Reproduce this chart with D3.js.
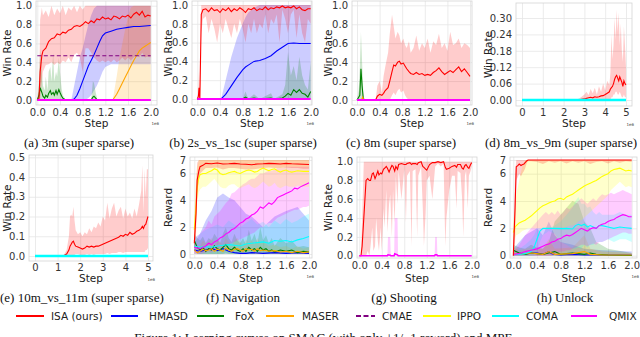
<!DOCTYPE html>
<html>
<head>
<meta charset="utf-8">
<script src="https://cdn.jsdelivr.net/npm/d3@7"></script>
<style>
body { margin: 0; background: #fff; }
svg { display: block; }
text { font-family: "DejaVu Sans", sans-serif; }
.cap { font-family: "Liberation Serif", serif; }
</style>
</head>
<body>
<script>
// each row: [step (1e6), mean, low, high]

// (a) 3m
var a_isa = [[0,0,0,0],[0.03,0.02,0,0.1],[0.05,0.3,0,0.85],[0.08,0.47,0.2,0.98],[0.1,0.52,0.3,0.9],[0.15,0.55,0.37,0.95],[0.2,0.62,0.38,0.88],[0.25,0.65,0.4,1],[0.3,0.66,0.37,0.9],[0.35,0.7,0.4,0.97],[0.4,0.69,0.38,0.92],[0.45,0.72,0.42,1],[0.5,0.71,0.4,0.9],[0.55,0.74,0.45,0.98],[0.6,0.75,0.4,0.95],[0.65,0.78,0.48,1],[0.7,0.79,0.5,0.93],[0.75,0.78,0.45,1],[0.8,0.8,0.3,0.96],[0.85,0.83,0.55,1],[0.9,0.81,0.55,1],[0.95,0.84,0.5,1],[1,0.82,0.45,1],[1.05,0.86,0.42,1],[1.1,0.85,0.4,1],[1.15,0.88,0.42,1],[1.2,0.86,0.4,1],[1.25,0.87,0.42,1],[1.3,0.85,0.4,1],[1.35,0.89,0.43,1],[1.4,0.88,0.4,1],[1.45,0.86,0.42,1],[1.5,0.89,0.45,1],[1.55,0.88,0.42,1],[1.6,0.9,0.45,1],[1.65,0.87,0.42,1],[1.7,0.91,0.45,1],[1.75,0.93,0.48,1],[1.8,0.9,0.45,1],[1.85,0.94,0.5,1],[1.9,0.88,0.45,1],[1.95,0.9,0.46,1],[2,0.89,0.45,1]];
var a_hmasd = [[0,0,0,0],[0.6,0,0,0],[0.65,0.01,0,0.15],[0.7,0.05,0,0.3],[0.75,0.12,0,0.45],[0.8,0.2,0,0.55],[0.85,0.28,0,0.68],[0.9,0.36,0.02,0.8],[0.95,0.42,0.05,0.9],[1,0.48,0.1,0.97],[1.05,0.55,0.15,1],[1.1,0.62,0.22,1],[1.15,0.68,0.3,1],[1.2,0.71,0.35,1],[1.3,0.73,0.38,1],[1.4,0.75,0.38,1],[1.5,0.76,0.38,1],[1.6,0.77,0.38,1],[1.7,0.78,0.38,1],[1.8,0.78,0.38,1],[1.9,0.785,0.38,1],[2,0.79,0.38,1]];
var a_maser = [[0,0,0,0],[1.33,0,0,0],[1.4,0.06,0,0.25],[1.45,0.12,0,0.45],[1.5,0.18,0,0.6],[1.55,0.24,0,0.75],[1.6,0.3,0,0.88],[1.65,0.36,0,0.98],[1.7,0.42,0,1],[1.75,0.47,0,1],[1.8,0.52,0,1],[1.85,0.55,0,1],[1.9,0.57,0,1],[1.95,0.59,0,1],[2,0.61,0,1]];
var a_fox = [[0,0,0,0],[0.03,0.05,0,0.2],[0.05,0.13,0,0.55],[0.08,0.08,0,0.3],[0.1,0.04,0,0.15],[0.13,0.02,0,0.1],[0.15,0.05,0,0.25],[0.18,0.03,0,0.1],[0.2,0.07,0,0.3],[0.23,0.1,0,0.35],[0.25,0.06,0,0.2],[0.28,0.08,0,0.5],[0.3,0.05,0,0.2],[0.33,0.1,0,0.3],[0.35,0.06,0,0.25],[0.38,0.11,0,0.45],[0.4,0.08,0,0.3],[0.43,0.04,0,0.12],[0.45,0.02,0,0.05],[0.5,0,0,0],[0.95,0,0,0],[0.98,0.03,0,0.2],[1,0.04,0,0.18],[1.03,0.02,0,0.08],[1.06,0,0,0],[2,0,0,0]];
var a_cmae = [[0,0.47],[2,0.47]];
var a_qmix = [[0,0],[2,0]];

// (b) 2s_vs_1sc
var b_isa = [[0,0,0,0],[0.02,0.03,0,0.1],[0.03,0.12,0,0.3],[0.045,0,0,0.05],[0.07,0.9,0.7,1],[0.1,0.95,0.85,1],[0.15,0.96,0.88,1],[0.2,0.93,0.7,1],[0.25,0.97,0.85,1],[0.3,0.94,0.75,1],[0.35,0.95,0.6,1],[0.4,0.92,0.8,1],[0.45,0.96,0.7,1],[0.5,0.94,0.85,1],[0.55,0.97,0.75,1],[0.6,0.93,0.65,1],[0.65,0.96,0.8,1],[0.7,0.94,0.7,1],[0.75,0.97,0.85,1],[0.8,0.95,0.75,1],[0.85,0.92,0.6,1],[0.9,0.96,0.8,1],[0.95,0.95,0.7,1],[1,0.97,0.85,1],[1.05,0.94,0.7,1],[1.1,0.96,0.8,1],[1.15,0.95,0.75,1],[1.2,0.98,0.9,1],[1.25,0.95,0.7,1],[1.3,0.97,0.85,1],[1.35,0.96,0.8,1],[1.4,0.98,0.9,1],[1.45,0.97,0.6,1],[1.5,0.99,0.95,1],[1.55,0.97,0.85,1],[1.6,0.98,0.7,1],[1.65,0.97,0.9,1],[1.7,0.99,0.95,1],[1.75,0.96,0.65,1],[1.8,0.98,0.9,1],[1.85,0.95,0.7,1],[1.9,0.94,0.6,1],[1.95,0.96,0.85,1],[2,0.96,0.8,1]];
var b_hmasd = [[0,0,0,0],[0.42,0,0,0],[0.5,0.05,0,0.2],[0.6,0.14,0,0.45],[0.7,0.23,0,0.65],[0.8,0.31,0,0.8],[0.85,0.34,0,0.87],[0.9,0.36,0,0.92],[1,0.4,0,0.97],[1.1,0.41,0,1],[1.2,0.43,0,1],[1.3,0.46,0,1],[1.4,0.51,0,1],[1.5,0.55,0,1],[1.6,0.59,0,1],[1.7,0.595,0,1],[1.8,0.59,0,1],[2,0.59,0,1]];
var b_fox = [[0,0,0,0],[0.8,0,0,0],[0.85,0.02,0,0.08],[0.9,0,0,0],[1,0.01,0,0.05],[1.1,0,0,0],[1.3,0.01,0,0.06],[1.35,0,0,0],[1.5,0.01,0,0.05],[1.55,0.03,0,0.15],[1.6,0.06,0,0.5],[1.65,0.04,0,0.25],[1.7,0.1,0,0.35],[1.75,0.07,0,0.2],[1.8,0.1,0,0.45],[1.85,0.06,0,0.25],[1.9,0.05,0,0.15],[1.95,0.02,0,0.1],[2,0.08,0,0.4]];
var b_qmix = [[0,0],[2,0]];

// (c) 8m
var c_isa = [[0,0,0,0],[0.33,0,0,0],[0.36,0.04,0,0.15],[0.4,0.06,0,0.2],[0.44,0.05,0,0.08],[0.47,0.07,0,0.25],[0.5,0.1,0,0.35],[0.55,0.13,0,0.5],[0.58,0.2,0,0.7],[0.62,0.3,0.05,0.9],[0.65,0.37,0.08,0.78],[0.68,0.36,0.05,0.65],[0.72,0.4,0.1,0.72],[0.75,0.41,0.12,0.68],[0.78,0.38,0.08,0.6],[0.82,0.39,0.1,0.65],[0.85,0.36,0.05,0.58],[0.88,0.33,0.02,0.55],[0.92,0.3,0,0.62],[0.95,0.28,0,0.5],[1,0.27,0,0.55],[1.05,0.29,0,0.68],[1.1,0.27,0,0.52],[1.15,0.28,0,0.6],[1.2,0.26,0,0.55],[1.25,0.27,0,0.65],[1.3,0.26,0,0.5],[1.35,0.29,0,0.62],[1.4,0.31,0,0.58],[1.45,0.34,0,0.7],[1.5,0.3,0,0.55],[1.55,0.27,0,0.6],[1.6,0.29,0,0.52],[1.65,0.31,0,0.72],[1.7,0.29,0,0.58],[1.75,0.32,0,0.6],[1.8,0.35,0,0.65],[1.85,0.3,0,0.55],[1.9,0.33,0,0.6],[1.95,0.29,0,0.58],[2,0.25,0,0.55]];
var c_fox = [[0,0,0,0],[0.03,0.03,0,0.1],[0.05,0.05,0,0.35],[0.07,0.33,0,0.72],[0.09,0.15,0,0.4],[0.11,0.02,0,0.1],[0.13,0,0,0],[2,0,0,0]];
var c_maser = [[0,0,0,0],[0.08,0,0,0],[0.1,0.03,0,0.05],[0.12,0,0,0],[2,0,0,0]];
var c_qmix = [[0,0],[2,0]];

// (d) 8m_vs_9m
var d_isa = [[0,0,0,0],[2.6,0,0,0],[2.8,0.002,0,0.008],[3,0.004,0,0.02],[3.1,0.006,0,0.03],[3.2,0.008,0,0.018],[3.3,0.01,0,0.04],[3.4,0.008,0,0.025],[3.5,0.012,0,0.045],[3.6,0.01,0,0.02],[3.7,0.012,0,0.05],[3.8,0.015,0,0.03],[3.9,0.016,0,0.06],[4,0.02,0,0.035],[4.1,0.025,0,0.07],[4.2,0.03,0,0.055],[4.25,0.04,0,0.1],[4.3,0.045,0.01,0.24],[4.35,0.05,0.01,0.15],[4.4,0.06,0.02,0.2],[4.45,0.075,0.02,0.3],[4.5,0.085,0.03,0.22],[4.55,0.09,0.03,0.33],[4.6,0.08,0.02,0.25],[4.65,0.07,0.02,0.32],[4.7,0.085,0.03,0.2],[4.75,0.075,0.02,0.28],[4.8,0.065,0.01,0.18],[4.85,0.05,0.01,0.14],[4.9,0.07,0.02,0.27],[4.95,0.06,0.01,0.2],[5,0.055,0.01,0.12]];
var d_coma = [[0,0],[5,0]];

// (e) 10m_vs_11m
var e_isa = [[0,0,0,0],[1.2,0,0,0],[1.3,0.004,0,0.01],[1.4,0.01,0,0.03],[1.5,0.03,0,0.1],[1.55,0.05,0,0.2],[1.6,0.06,0,0.21],[1.65,0.07,0,0.2],[1.7,0.075,0.005,0.25],[1.75,0.06,0.005,0.18],[1.8,0.05,0.01,0.13],[1.9,0.045,0.01,0.11],[2,0.04,0.005,0.12],[2.1,0.035,0.005,0.1],[2.2,0.04,0.005,0.12],[2.3,0.05,0.01,0.11],[2.4,0.045,0.005,0.14],[2.5,0.05,0.01,0.12],[2.6,0.045,0.005,0.15],[2.7,0.05,0.01,0.14],[2.8,0.05,0.01,0.17],[2.9,0.055,0.01,0.15],[3,0.06,0.01,0.2],[3.1,0.065,0.01,0.18],[3.2,0.07,0.015,0.27],[3.3,0.075,0.01,0.19],[3.4,0.08,0.015,0.24],[3.5,0.085,0.015,0.27],[3.6,0.09,0.015,0.2],[3.7,0.095,0.02,0.23],[3.8,0.105,0.02,0.25],[3.9,0.1,0.015,0.19],[4,0.11,0.02,0.24],[4.1,0.105,0.02,0.2],[4.2,0.12,0.02,0.22],[4.3,0.11,0.02,0.19],[4.4,0.115,0.02,0.24],[4.5,0.125,0.02,0.2],[4.6,0.13,0.02,0.26],[4.7,0.14,0.02,0.33],[4.75,0.15,0.02,0.46],[4.8,0.14,0.02,0.22],[4.85,0.155,0.02,0.44],[4.9,0.16,0.03,0.3],[4.95,0.18,0.03,0.44],[5,0.2,0.04,0.44]];
var e_coma = [[0,0],[5,0]];

// (f) Navigation
var f_isa = [[0,0.8,0.2,2],[0.03,3,1.5,5],[0.05,5.5,4.5,6.8],[0.08,6.2,5.5,7],[0.1,6.5,6,7],[0.15,6.6,6.2,7],[0.2,6.75,6.4,7],[0.3,6.72,6.4,7],[0.4,6.78,6.45,7],[0.5,6.7,6.3,7],[0.6,6.72,6.4,7],[0.7,6.75,6.4,7],[0.8,6.7,6.35,7],[0.9,6.68,6.3,7],[1,6.65,6.3,7],[1.1,6.7,6.35,7],[1.2,6.72,6.4,7],[1.3,6.75,6.45,7],[1.4,6.73,6.4,7],[1.5,6.7,6.4,7],[1.6,6.75,6.45,7],[1.7,6.72,6.4,7],[1.8,6.7,6.4,7],[1.9,6.68,6.35,7],[2,6.66,6.35,7]];
var f_ippo = [[0,1.8,0.5,3],[0.03,3.5,2,5.5],[0.05,5,3.8,6.5],[0.08,5.7,4.6,7],[0.1,5.9,4.8,7],[0.15,6,5,7],[0.2,6,5,7],[0.25,6.1,5.2,7],[0.3,6.2,5.4,7],[0.35,6.35,5.6,7],[0.4,6.25,5.3,7],[0.45,6,5,7],[0.5,5.9,4.9,7],[0.55,5.95,4.9,7],[0.6,6.05,5.1,7],[0.65,6.1,5.2,7],[0.7,6.15,5.2,7],[0.75,6.05,5,7],[0.8,6,4.9,7],[0.85,6.1,5,7],[0.9,6.2,5.1,7],[0.95,6.25,5.2,7],[1,6.2,5,7],[1.05,6.1,4.9,7],[1.1,6.15,5,7],[1.15,6.3,5.2,7],[1.2,6.4,5.4,7],[1.25,6.3,5.2,7],[1.3,6.2,5,7],[1.35,6.3,5.1,7],[1.4,6.35,5.3,7],[1.45,6.2,5,7],[1.5,6.1,4.9,7],[1.55,6.2,5,7],[1.6,6.25,5.1,7],[1.65,6.15,5,7],[1.7,6.1,5,7],[1.75,6.15,5,7],[1.8,6.2,5.1,7],[1.9,6.15,5,7],[2,6.15,5,7]];
var f_qmix = [[0,0.5,0.1,1.2],[0.1,0.4,0,1.5],[0.2,0.6,0.1,2],[0.25,0.8,0.2,2.5],[0.3,0.7,0.1,2.2],[0.35,0.9,0.3,2.8],[0.4,1,0.3,3],[0.45,1.2,0.5,3.2],[0.5,1.3,0.5,3.5],[0.55,1.5,0.6,3.8],[0.6,1.6,0.7,4],[0.65,1.8,0.8,4.5],[0.7,1.9,0.9,4.6],[0.75,2.1,1,4.8],[0.8,2.3,1.1,5],[0.85,2.4,1.2,5.2],[0.9,2.6,1.3,5.3],[0.95,2.7,1.4,5.5],[1,2.9,1.5,5.6],[1.05,3,1.6,5.6],[1.1,3.2,1.8,5.8],[1.15,3.5,2,6],[1.2,3.4,2,6],[1.25,3.6,2.2,6.1],[1.3,3.8,2.3,6.2],[1.35,3.7,2.3,6.2],[1.4,3.9,2.5,6.3],[1.45,4.2,2.7,6.4],[1.5,4.3,2.8,6.4],[1.55,4.4,2.9,6.4],[1.6,4.5,3,6.5],[1.65,4.6,3.1,6.5],[1.7,4.7,3.2,6.5],[1.75,4.9,3.3,6.5],[1.8,4.85,3.3,6.5],[1.85,5,3.4,6.5],[1.9,5.1,3.5,6.5],[1.95,5.2,3.5,6.5],[2,5.3,3.6,6.5]];
var f_coma = [[0,0.6,0.2,1.2],[0.1,0.5,0,1.5],[0.2,0.55,0,1.8],[0.3,0.5,0,2],[0.4,0.6,0,2.2],[0.5,0.65,0,2],[0.6,0.7,0,2.5],[0.7,0.65,0,2.2],[0.8,0.6,0,2],[0.9,0.75,0,2.3],[1,0.8,0,2.6],[1.1,0.85,0.1,2.2],[1.2,0.9,0.1,2.4],[1.3,0.8,0,2],[1.4,1,0.1,2.5],[1.5,0.95,0.1,2.2],[1.6,1,0.1,2.6],[1.7,0.9,0,2.3],[1.8,1.05,0.1,2.5],[1.9,1.15,0.2,2.8],[2,1.3,0.3,3]];
var f_hmasd = [[0,0.3,0,0.8],[0.1,0.2,0,1.5],[0.2,0.3,0,2.5],[0.3,0.4,0,3.2],[0.4,0.25,0,4.2],[0.5,0.4,0,4.5],[0.6,0.2,0,4.2],[0.7,0.1,0,4],[0.8,0.05,0,3.5],[0.9,0.05,0,3],[1,0.1,0,2.8],[1.2,0.05,0,2],[1.4,0.1,0,2.8],[1.6,0.05,0,3.2],[1.8,0.1,0,3.5],[2,0.05,0,2.5]];
var f_fox = [[0,1,0.5,1.5],[0.05,0.5,0,1.2],[0.1,0.3,0,1],[0.15,0.5,0,1.3],[0.2,0.2,0,0.8],[0.25,0.4,0,1.2],[0.3,0.3,0,1],[0.35,0.6,0,1.5],[0.4,0.4,0,1.2],[0.45,0.3,0,0.8],[0.5,0.5,0,1.5],[0.55,0.7,0.1,2],[0.6,0.4,0,1.2],[0.65,0.3,0,0.9],[0.7,0.5,0,1.5],[0.75,0.3,0,1],[0.8,0.2,0,0.8],[0.85,0.4,0,1.2],[0.9,0.2,0,0.7],[0.95,0.5,0,1.8],[1,0.3,0,1],[1.05,0.4,0,1.5],[1.1,0.2,0,0.8],[1.15,0.5,0,2],[1.2,0.3,0,1],[1.25,0.4,0,1.4],[1.3,0.2,0,0.8],[1.35,0.3,0,1.2],[1.4,0.15,0,0.6],[1.5,0.3,0,1.2],[1.6,0.2,0,0.8],[1.7,0.3,0,1],[1.8,0.1,0,0.5],[1.9,0.2,0,0.6],[2,0.15,0,0.5]];
var f_maser = [[0,0.3,0,0.8],[0.05,0.1,0,0.5],[0.1,0.2,0,0.6],[0.15,0.35,0,1],[0.2,0.25,0,0.8],[0.25,0.3,0,0.9],[0.3,0.4,0,1.2],[0.35,0.2,0,0.7],[0.4,0.35,0,1],[0.45,0.3,0,0.9],[0.5,0.2,0,0.7],[0.55,0.45,0,1.2],[0.6,0.3,0,0.9],[0.65,0.2,0,0.6],[0.7,0.35,0,1],[0.75,0.4,0,1.2],[0.8,0.3,0,0.9],[0.85,0.2,0,0.6],[0.9,0.4,0,1.1],[0.95,0.3,0,0.8],[1,0.35,0,1],[1.05,0.2,0,0.7],[1.1,0.4,0,1.2],[1.15,0.25,0,0.8],[1.2,0.3,0,0.9],[1.3,0.2,0,0.6],[1.4,0.25,0,0.7],[1.5,0.15,0,0.5],[1.6,0.2,0,0.6],[1.7,0.1,0,0.4],[1.8,0.2,0,0.6],[1.9,0.1,0,0.4],[2,0.15,0,0.5]];

// (g) Shooting
var g_isa = [[0,0,0,0],[0.03,0,0,0],[0.05,0.1,0,0.4],[0.08,0.4,0,1],[0.1,0.6,0,1],[0.12,0.8,0,1],[0.15,0.82,0.05,1],[0.18,0.8,0,1],[0.2,0.8,0.1,1],[0.23,0.87,0.3,1],[0.25,0.88,0.05,1],[0.28,0.82,0.1,1],[0.3,0.85,0.4,1],[0.33,0.9,0.15,1],[0.35,0.86,0.05,1],[0.38,0.88,0.3,1],[0.4,0.87,0.05,1],[0.43,0.92,0.5,1],[0.45,0.93,0.3,1],[0.48,0.95,0.7,1],[0.5,0.93,0.25,1],[0.53,0.89,0.55,1],[0.55,0.92,0.65,1],[0.58,0.96,0.2,1],[0.6,0.95,0.7,1],[0.63,0.9,0.35,1],[0.65,0.95,0.85,1],[0.68,0.92,0.55,1],[0.7,0.97,0.9,1],[0.75,0.98,0.6,1],[0.8,0.97,0.92,1],[0.83,0.97,0.35,1],[0.85,0.98,0.85,1],[0.9,0.99,0.9,1],[0.93,0.97,0.1,1],[0.95,0.98,0.9,1],[1,0.98,0.92,1],[1.03,0.97,0.2,1],[1.05,0.99,0.85,1],[1.1,1,0.95,1],[1.13,0.95,0.5,1],[1.15,0.94,0.1,1],[1.18,0.92,0.45,1],[1.2,0.91,0.8,1],[1.25,0.97,0.85,1],[1.3,0.99,0.6,1],[1.35,0.99,0.95,1],[1.4,1,0.98,1],[1.45,0.99,0.95,1],[1.5,1,0.98,1],[1.53,0.94,0.1,1],[1.55,0.92,0.4,1],[1.6,0.93,0.7,1],[1.65,0.95,0.85,1],[1.7,0.96,0.85,1],[1.73,0.94,0.5,1],[1.75,0.97,0.9,1],[1.8,0.97,0.88,1],[1.83,0.93,0.6,1],[1.85,0.92,0.2,1],[1.88,0.96,0.85,1],[1.9,0.97,0.9,1],[1.93,0.94,0.5,1],[1.95,0.93,0.85,1],[1.98,0.97,0.9,1],[2,0.99,0.95,1]];
var g_qmix = [[0,0,0,0],[0.5,0,0,0],[0.51,0.01,0,0.2],[0.55,0.005,0,0.2],[0.56,0,0,0],[0.62,0,0,0],[0.63,0.02,0,0.4],[0.68,0.01,0,0.4],[0.69,0,0,0],[1.34,0,0,0],[1.35,0.01,0,0.2],[1.38,0.01,0,0.2],[1.39,0,0,0],[2,0,0,0]];

// (h) Unlock
var h_isa = [[0,0,0,0.5],[0.03,3.5,1,6],[0.05,6.5,5.5,7],[0.08,6.6,5.8,7],[0.1,6.7,6,7],[0.13,6.6,5.8,7],[0.15,6.65,6,7],[0.18,6.7,6.2,7],[0.2,6.8,6.4,7],[0.23,6.95,6.8,7],[0.25,7,6.9,7],[0.3,7,6.9,7],[0.4,7,6.85,7],[0.5,7,6.7,7],[0.6,7,6.9,7],[0.7,7,6.8,7],[0.8,7,6.9,7],[0.9,7,6.75,7],[1,7,6.9,7],[1.1,7,6.8,7],[1.2,7,6.9,7],[1.3,7,6.7,7],[1.4,7,6.85,7],[1.5,7,6.9,7],[1.6,7,6.75,7],[1.7,7,6.9,7],[1.8,7,6.8,7],[1.9,7,6.9,7],[2,7,6.85,7]];
var h_ippo = [[0,1.7,1,2.5],[0.03,2.1,1.3,3.5],[0.05,2.2,1.5,4.5],[0.1,2.4,1.6,5.5],[0.15,2.5,1.8,6.5],[0.2,2.6,1.9,7],[0.25,2.75,2,7],[0.3,2.9,2,7],[0.35,3.1,2,7],[0.4,3.3,2,7],[0.45,3.5,2,7],[0.5,3.65,2,7],[0.55,3.75,2,7],[0.6,3.85,2,7],[0.65,3.95,2,7],[0.7,4,2,7],[0.75,4.15,2.1,7],[0.8,4.2,2.1,7],[0.85,4.1,2,7],[0.9,4.3,2.1,7],[0.95,4.4,2.2,7],[1,4.5,2.2,7],[1.05,4.65,2.3,7],[1.1,4.8,2.5,7],[1.15,4.95,2.6,7],[1.2,5.1,2.8,7],[1.25,5.2,3,7],[1.3,5.3,3.2,7],[1.35,5.4,3.4,7],[1.4,5.5,3.6,7],[1.45,5.65,3.8,7],[1.5,5.8,4,7],[1.55,5.9,4.2,7],[1.6,6,4.4,7],[1.65,6.2,4.8,7],[1.7,6.3,5,7],[1.75,6.35,5.2,7],[1.8,6.4,5.4,7],[1.85,6.3,5.2,7],[1.9,6.2,5,7],[1.95,6.25,5.1,7],[2,6.2,5,7]];
var h_coma = [[0,0.1,0,0.3],[0.1,0.1,0,0.5],[0.2,0.15,0,0.8],[0.3,0.3,0,1.2],[0.35,0.6,0,1.5],[0.4,1.2,0.2,2],[0.45,1.8,1,2],[0.5,2,1.5,2],[0.6,2,1.8,2],[0.7,2,1.6,2.2],[0.8,1.98,1,2.5],[0.9,2,0.8,3],[1,1.95,0.5,3.5],[1.05,2.2,0.5,4],[1.1,2.3,0.6,4.3],[1.15,2.2,0.5,3.8],[1.2,2.3,0.8,3.8],[1.25,2.1,0.6,3.5],[1.3,2.2,0.8,3.6],[1.35,2.1,0.8,3.2],[1.4,2,1,3],[1.45,2.2,1,3.2],[1.5,2.2,1,3],[1.6,2.1,1.2,3],[1.7,2,1,3],[1.8,2.1,1.2,3.2],[1.9,2.05,1.2,3],[2,2,1,3]];
var h_qmix = [[0,0.1,0,0.3],[0.1,0.15,0,0.8],[0.2,0.3,0,1.5],[0.3,0.4,0,2],[0.4,0.5,0,2.5],[0.5,0.7,0,3],[0.55,0.8,0,3.2],[0.6,0.85,0,3],[0.65,1,0,3.2],[0.7,1.05,0.1,3],[0.75,1.2,0.2,3.3],[0.8,1.25,0.3,3],[0.85,1.4,0.3,3.2],[0.9,1.5,0.4,3.5],[0.95,1.45,0.4,3.4],[1,1.55,0.5,3.6],[1.05,1.7,0.6,3.8],[1.1,1.85,0.7,4],[1.15,2,0.8,4.2],[1.2,1.9,0.8,4],[1.25,1.8,0.7,3.8],[1.3,1.95,0.8,4],[1.35,2.05,0.9,4.2],[1.4,2,0.8,4],[1.45,2.2,1,4.3],[1.5,2.3,1,4.5],[1.55,2.35,1.1,4.4],[1.6,2.5,1.2,4.5],[1.65,2.6,1.3,4.6],[1.7,2.65,1.4,4.5],[1.75,2.8,1.5,4.6],[1.8,2.9,1.6,4.7],[1.85,3,1.7,4.8],[1.9,2.95,1.7,4.7],[1.95,2.85,1.6,4.6],[2,2.85,1.6,4.5]];
var h_hmasd = [[0,0.1,0,0.5],[0.2,0.15,0,1.5],[0.4,0.2,0,2],[0.5,0.1,0,1.5],[0.6,0.3,0,2.5],[0.65,0.15,0,2],[0.7,0.1,0,1.5],[0.8,0.05,0,1],[1,0.1,0,0.8],[1.2,0.05,0,0.5],[1.5,0.05,0,0.4],[2,0.05,0,0.3]];
var h_fox = [[0,0.4,0,0.8],[0.1,0.2,0,0.6],[0.2,0.1,0,0.5],[0.3,0.2,0,0.8],[0.4,0.15,0,0.6],[0.5,0.1,0,0.5],[0.6,0.2,0,1],[0.7,0.3,0,2.5],[0.8,0.1,0,3],[0.9,0.15,0,3.5],[1,0.2,0,4],[1.1,0.15,0,3.8],[1.2,0.1,0,2.5],[1.3,0.2,0,2],[1.4,0.1,0,1],[1.6,0.05,0,0.5],[2,0.02,0,0.2]];
var h_maser = [[0,0.2,0,0.6],[0.1,0.1,0,0.4],[0.3,0.2,0,0.6],[0.5,0.1,0,0.5],[0.6,0.3,0,1.2],[0.7,0.1,0,0.5],[1,0.15,0,0.6],[1.2,0.3,0,1.5],[1.3,0.1,0,0.5],[1.5,0.05,0,0.3],[2,0.05,0,0.2]];

var methods = ["ISA (ours)", "HMASD", "FoX", "MASER", "CMAE", "IPPO", "COMA", "QMIX"];
var methodKeys = ["isa", "hmasd", "fox", "maser", "cmae", "ippo", "coma", "qmix"];
var topCaptions = ["(a) 3m (super sparse)", "(b) 2s_vs_1sc (super sparse)", "(c) 8m (super sparse)", "(d) 8m_vs_9m (super sparse)"];
var bottomCaptions = ["(e) 10m_vs_11m (super sparse)", "(f) Navigation", "(g) Shooting", "(h) Unlock"];
var stepTicks2 = [0, 0.4, 0.8, 1.2, 1.6, 2.0];
var stepTicks5 = [0, 1, 2, 3, 4, 5];
var winTicks = [0, 0.2, 0.4, 0.6, 0.8, 1.0];
var winTicksD = [0, 0.06, 0.12, 0.18, 0.24, 0.30];
var winTicksE = [0, 0.1, 0.2, 0.3, 0.4, 0.5];
var rewardTicks = [0, 2, 4, 6, 7];

var colors = { isa: "#ff0000", hmasd: "#0000ff", fox: "#008000", maser: "#ffa500",
               cmae: "#800080", ippo: "#ffff00", coma: "#00ffff", qmix: "#ff00ff" };

var svg = d3.select("body").append("svg").attr("width", 640).attr("height", 337);

function drawPanel(p) {
    var g = svg.append("g");
    var x = d3.scaleLinear().domain(p.xd).range(p.xr);
    var y = d3.scaleLinear().domain(p.yd).range(p.yr);
    var l = p.box[0], t = p.box[1], r = p.box[2], b = p.box[3];

    var clipId = "clip-" + p.id;
    svg.append("clipPath").attr("id", clipId).append("rect")
        .attr("x", l).attr("y", t).attr("width", r - l).attr("height", b - t);

    // grid
    g.append("g").attr("transform", "translate(0," + b + ")")
        .call(d3.axisBottom(x).tickValues(p.xt).tickSize(-(b - t)).tickFormat(""))
        .call(s => s.select(".domain").remove())
        .selectAll("line").attr("stroke", "#e6e6e6").attr("stroke-width", 0.8);
    g.append("g").attr("transform", "translate(" + l + ",0)")
        .call(d3.axisLeft(y).tickValues(p.yt).tickSize(-(r - l)).tickFormat(""))
        .call(s => s.select(".domain").remove())
        .selectAll("line").attr("stroke", "#e6e6e6").attr("stroke-width", 0.8);

    var plot = g.append("g").attr("clip-path", "url(#" + clipId + ")");
    var area = d3.area().x(d => x(d[0])).y0(d => y(d[2])).y1(d => y(d[3]));
    var line = d3.line().x(d => x(d[0])).y(d => y(d[1]));

    p.series.forEach(function(s) {
        if (s.data[0].length > 2)
            plot.append("path").attr("d", area(s.data))
                .attr("fill", colors[s.k]).attr("fill-opacity", 0.2);
    });
    p.series.forEach(function(s) {
        plot.append("path").attr("d", line(s.data))
            .attr("fill", "none")
            .attr("stroke", colors[s.k])
            .attr("stroke-width", s.w || 1.1)
            .attr("stroke-dasharray", s.k === "cmae" ? "4,2.5" : null);
    });

    // frame
    g.append("rect").attr("x", l).attr("y", t).attr("width", r - l).attr("height", b - t)
        .attr("fill", "none").attr("stroke", "#d4d4d4").attr("stroke-width", 0.8);

    // tick labels
    var xa = g.append("g").attr("transform", "translate(0," + b + ")")
        .call(d3.axisBottom(x).tickValues(p.xt).tickSize(0).tickPadding(p.xpad).tickFormat(d3.format(p.xf)));
    var ya = g.append("g").attr("transform", "translate(" + l + ",0)")
        .call(d3.axisLeft(y).tickValues(p.yt).tickSize(0).tickPadding(4).tickFormat(d3.format(p.yf)));
    [xa, ya].forEach(function(a) {
        a.select(".domain").remove();
        a.selectAll("text").attr("fill", "#333").attr("font-size", 10)
            .attr("font-family", "DejaVu Sans, sans-serif");
    });

    g.append("text").attr("x", (l + r) / 2).attr("y", p.stepY)
        .attr("text-anchor", "middle").attr("dy", "0.35em")
        .attr("font-size", 10.5).attr("fill", "#222").text("Step");
    g.append("text")
        .attr("transform", "translate(" + p.labX + "," + ((t + b) / 2) + ") rotate(-90)")
        .attr("text-anchor", "middle").attr("dy", "0.35em")
        .attr("font-size", 10.5).attr("fill", "#222").text(p.ylab);
    // offset label of the step axis, tucked under the last tick label
    g.append("text").attr("x", r + 2).attr("y", b + 20)
        .attr("text-anchor", "end").attr("font-size", 4).attr("fill", "#444").text("1e6");
}

var panels = [
    { id: "a", box: [36, 1, 157, 105], xd: [0, 2], xr: [37.3, 150.7], yd: [0, 1], yr: [100, 5.7],
      xt: stepTicks2, yt: winTicks, xf: ".1f", yf: ".1f", ylab: "Win Rate", labX: 7, stepY: 123, xpad: 4,
      series: [{ k: "hmasd", data: a_hmasd }, { k: "fox", data: a_fox }, { k: "maser", data: a_maser },
               { k: "isa", data: a_isa }, { k: "cmae", data: a_cmae }, { k: "qmix", data: a_qmix, w: 2 }] },
    { id: "b", box: [192, 1, 312, 105], xd: [0, 2], xr: [197.3, 310.7], yd: [0, 1], yr: [99, 5],
      xt: stepTicks2, yt: winTicks, xf: ".1f", yf: ".1f", ylab: "Win Rate", labX: 168, stepY: 123, xpad: 4,
      series: [{ k: "hmasd", data: b_hmasd }, { k: "fox", data: b_fox }, { k: "isa", data: b_isa },
               { k: "qmix", data: b_qmix, w: 2 }] },
    { id: "c", box: [352, 1, 472, 105], xd: [0, 2], xr: [357, 470], yd: [0, 1], yr: [100, 5.3],
      xt: stepTicks2, yt: winTicks, xf: ".1f", yf: ".1f", ylab: "Win Rate", labX: 328, stepY: 123, xpad: 4,
      series: [{ k: "fox", data: c_fox }, { k: "maser", data: c_maser }, { k: "isa", data: c_isa },
               { k: "qmix", data: c_qmix, w: 2 }] },
    { id: "d", box: [516, 3, 632, 106], xd: [0, 5], xr: [522, 626], yd: [0, 0.3], yr: [100, 18],
      xt: stepTicks5, yt: winTicksD, xf: "d", yf: ".2f", ylab: "Win Rate", labX: 488, stepY: 123, xpad: 3,
      series: [{ k: "isa", data: d_isa }, { k: "coma", data: d_coma, w: 2.5 }] },
    { id: "e", box: [29, 155, 153, 261], xd: [0, 5], xr: [35, 148], yd: [0, 0.5], yr: [256, 157.3],
      xt: stepTicks5, yt: winTicksE, xf: "d", yf: ".1f", ylab: "Win Rate", labX: 7, stepY: 278, xpad: 3,
      series: [{ k: "isa", data: e_isa }, { k: "coma", data: e_coma, w: 2.5 }] },
    { id: "f", box: [190, 157, 312, 258], xd: [0, 2], xr: [194.3, 309], yd: [0, 7], yr: [254, 160],
      xt: stepTicks2, yt: rewardTicks, xf: ".1f", yf: "d", ylab: "Reward", labX: 168, stepY: 278, xpad: 4,
      series: [{ k: "hmasd", data: f_hmasd }, { k: "fox", data: f_fox }, { k: "maser", data: f_maser },
               { k: "coma", data: f_coma }, { k: "qmix", data: f_qmix }, { k: "ippo", data: f_ippo },
               { k: "isa", data: f_isa }] },
    { id: "g", box: [357, 157, 477, 258], xd: [0, 2], xr: [359.3, 471.7], yd: [0, 1], yr: [255.7, 161.7],
      xt: stepTicks2, yt: winTicks, xf: ".1f", yf: ".1f", ylab: "Win Rate", labX: 328, stepY: 278, xpad: 4,
      series: [{ k: "isa", data: g_isa }, { k: "qmix", data: g_qmix, w: 1.5 }] },
    { id: "h", box: [510, 157, 637, 258], xd: [0, 2], xr: [513.3, 631.7], yd: [0, 7], yr: [255.7, 160],
      xt: stepTicks2, yt: rewardTicks, xf: ".1f", yf: "d", ylab: "Reward", labX: 488, stepY: 278, xpad: 4,
      series: [{ k: "hmasd", data: h_hmasd }, { k: "fox", data: h_fox }, { k: "maser", data: h_maser },
               { k: "coma", data: h_coma }, { k: "qmix", data: h_qmix }, { k: "ippo", data: h_ippo },
               { k: "isa", data: h_isa }] }
];

panels.forEach(drawPanel);

// sub-captions
var topCapX = [79, 243, 401, 561];
var botCapX = [0, 243, 404, 565];
var botCapAnchor = ["start", "middle", "middle", "middle"];
svg.selectAll(".capTop").data(topCaptions).enter().append("text")
    .attr("class", "cap").attr("x", (d, i) => topCapX[i]).attr("y", 147)
    .attr("text-anchor", "middle").attr("font-size", 13).attr("fill", "#111").text(d => d);
svg.selectAll(".capBot").data(bottomCaptions).enter().append("text")
    .attr("class", "cap").attr("x", (d, i) => botCapX[i]).attr("y", 302)
    .attr("text-anchor", (d, i) => botCapAnchor[i]).attr("font-size", 13).attr("fill", "#111").text(d => d);

// legend
var legLineX = [16, 111, 197, 266, 356, 423, 492, 571];
var legLineLen = [28, 27, 27, 28, 19, 28, 27, 26];
var legTextX = [51, 149, 235, 302, 382, 457, 526, 609];
var leg = svg.append("g");
methods.forEach(function(m, i) {
    leg.append("line").attr("x1", legLineX[i]).attr("x2", legLineX[i] + legLineLen[i])
        .attr("y1", 316).attr("y2", 316)
        .attr("stroke", colors[methodKeys[i]]).attr("stroke-width", 2)
        .attr("stroke-dasharray", methodKeys[i] === "cmae" ? "5,2.5" : null);
    leg.append("text").attr("x", legTextX[i]).attr("y", 316).attr("dy", "0.35em")
        .attr("font-size", 10.5).attr("fill", "#222").text(m);
});

// figure caption, cut by the bottom edge as in the source
svg.append("text").attr("class", "cap").attr("x", 325).attr("y", 342)
    .attr("text-anchor", "middle").attr("font-size", 13).attr("fill", "#111")
    .text("Figure 1: Learning curves on SMAC (with only +1/\u22121 reward) and MPE.");
</script>
</body>
</html>
